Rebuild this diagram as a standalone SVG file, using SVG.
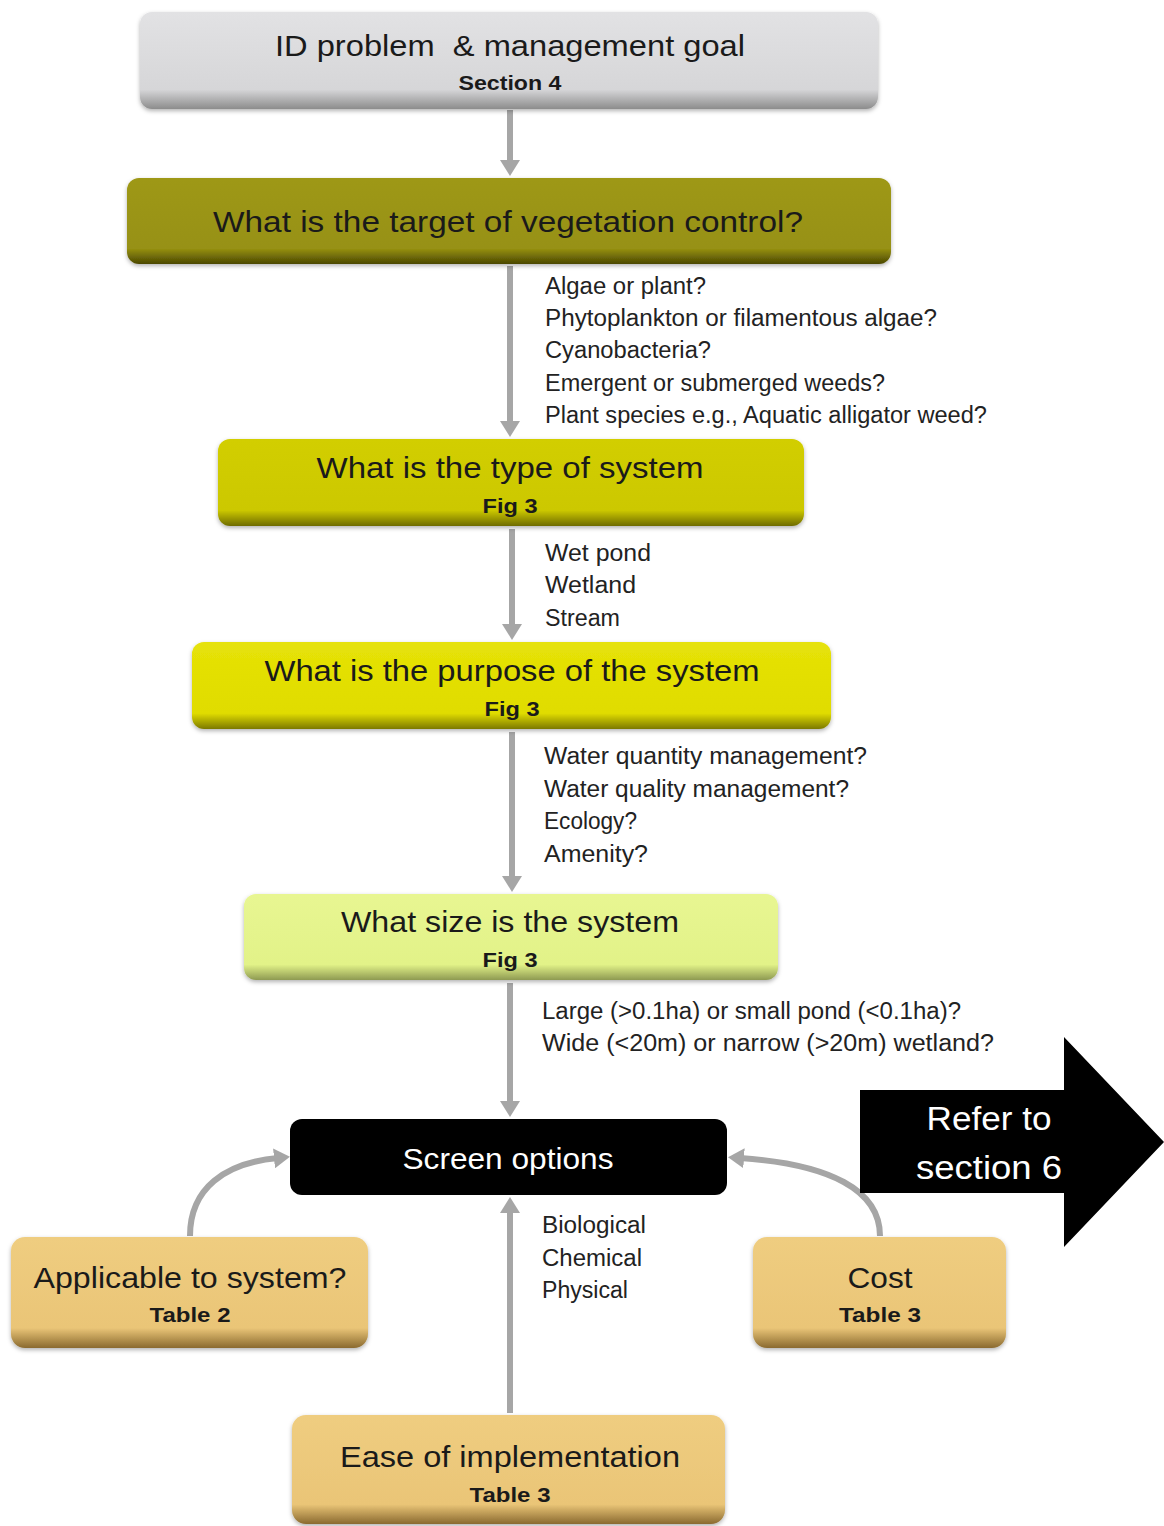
<svg xmlns="http://www.w3.org/2000/svg" width="1164" height="1526" viewBox="0 0 1164 1526">
<style>
.t{font-family:"Liberation Sans",Arial,sans-serif;fill:#1a1a1a;text-anchor:middle;}
.big{font-size:30px;}
.sub{font-size:21px;font-weight:bold;}
.lbl{font-family:"Liberation Sans",Arial,sans-serif;font-size:23px;fill:#222;}
.w{fill:#fff;}
.conn{stroke:#a6a6a6;stroke-width:6;fill:none;marker-end:url(#ah);}
</style>
<defs>
<marker id="ah" viewBox="0 0 16 20" refX="4" refY="10" markerWidth="16" markerHeight="20" markerUnits="userSpaceOnUse" orient="auto">
<path d="M0,0 L16,10 L0,20 z" fill="#a6a6a6"/>
</marker>
<filter id="sh" x="-5%" y="-10%" width="110%" height="130%">
<feDropShadow dx="0" dy="2" stdDeviation="2" flood-color="#000" flood-opacity="0.3"/>
</filter>
<linearGradient id="gGray" x1="0" y1="0" x2="0" y2="1">
<stop offset="0" stop-color="#e2e2e4"/><stop offset="0.8" stop-color="#d6d6d8"/><stop offset="1" stop-color="#8c8c8c"/>
</linearGradient>
<linearGradient id="gOlive" x1="0" y1="0" x2="0" y2="1">
<stop offset="0" stop-color="#9e9818"/><stop offset="0.82" stop-color="#979112"/><stop offset="1" stop-color="#4a4700"/>
</linearGradient>
<linearGradient id="gY1" x1="0" y1="0" x2="0" y2="1">
<stop offset="0" stop-color="#d2ce04"/><stop offset="0.82" stop-color="#ccc800"/><stop offset="1" stop-color="#6e6b00"/>
</linearGradient>
<linearGradient id="gY2" x1="0" y1="0" x2="0" y2="1">
<stop offset="0" stop-color="#e6e208"/><stop offset="0.82" stop-color="#e0dc00"/><stop offset="1" stop-color="#7c7900"/>
</linearGradient>
<linearGradient id="gL" x1="0" y1="0" x2="0" y2="1">
<stop offset="0" stop-color="#e8f692"/><stop offset="0.82" stop-color="#e2f288"/><stop offset="1" stop-color="#8e9a52"/>
</linearGradient>
<linearGradient id="gT" x1="0" y1="0" x2="0" y2="1">
<stop offset="0" stop-color="#efcd80"/><stop offset="0.82" stop-color="#eac577"/><stop offset="1" stop-color="#8a6a30"/>
</linearGradient>
</defs>
<rect width="1164" height="1526" fill="#fff"/>

<g id="connectors">
<line class="conn" x1="510" y1="110" x2="510" y2="164"/>
<line class="conn" x1="510" y1="266" x2="510" y2="425"/>
<line class="conn" x1="512" y1="529" x2="512" y2="628"/>
<line class="conn" x1="512" y1="732" x2="512" y2="880"/>
<line class="conn" x1="510" y1="983" x2="510" y2="1105"/>
<line class="conn" x1="510" y1="1413" x2="510" y2="1209"/>
<path class="conn" d="M190,1236 C190,1188 225,1163 278,1158"/>
<path class="conn" d="M880,1236 C880,1190 830,1164 740,1158"/>
</g>

<g id="labels">
<text class="lbl" x="545" y="294" textLength="161" lengthAdjust="spacingAndGlyphs">Algae or plant?</text>
<text class="lbl" x="545" y="326" textLength="392" lengthAdjust="spacingAndGlyphs">Phytoplankton or filamentous algae?</text>
<text class="lbl" x="545" y="358" textLength="166" lengthAdjust="spacingAndGlyphs">Cyanobacteria?</text>
<text class="lbl" x="545" y="391" textLength="340" lengthAdjust="spacingAndGlyphs">Emergent or submerged weeds?</text>
<text class="lbl" x="545" y="423" textLength="442" lengthAdjust="spacingAndGlyphs">Plant species e.g., Aquatic alligator weed?</text>
<text class="lbl" x="545" y="561" textLength="106" lengthAdjust="spacingAndGlyphs">Wet pond</text>
<text class="lbl" x="545" y="593" textLength="91" lengthAdjust="spacingAndGlyphs">Wetland</text>
<text class="lbl" x="545" y="626" textLength="75" lengthAdjust="spacingAndGlyphs">Stream</text>
<text class="lbl" x="544" y="764" textLength="323" lengthAdjust="spacingAndGlyphs">Water quantity management?</text>
<text class="lbl" x="544" y="797" textLength="305" lengthAdjust="spacingAndGlyphs">Water quality management?</text>
<text class="lbl" x="544" y="829" textLength="93" lengthAdjust="spacingAndGlyphs">Ecology?</text>
<text class="lbl" x="544" y="862" textLength="104" lengthAdjust="spacingAndGlyphs">Amenity?</text>
<text class="lbl" x="542" y="1019" textLength="419" lengthAdjust="spacingAndGlyphs">Large (&gt;0.1ha) or small pond (&lt;0.1ha)?</text>
<text class="lbl" x="542" y="1051" textLength="452" lengthAdjust="spacingAndGlyphs">Wide (&lt;20m) or narrow (&gt;20m) wetland?</text>
<text class="lbl" x="542" y="1233" textLength="104" lengthAdjust="spacingAndGlyphs">Biological</text>
<text class="lbl" x="542" y="1266" textLength="100" lengthAdjust="spacingAndGlyphs">Chemical</text>
<text class="lbl" x="542" y="1298" textLength="86" lengthAdjust="spacingAndGlyphs">Physical</text>
</g>

<g id="n-id">
<rect x="140" y="12" width="738" height="97" rx="12" fill="url(#gGray)" filter="url(#sh)"/>
<text class="t big" x="510" y="56" xml:space="preserve" textLength="470" lengthAdjust="spacingAndGlyphs">ID problem  &amp; management goal</text>
<text class="t sub" x="510" y="90" textLength="103" lengthAdjust="spacingAndGlyphs">Section 4</text>
</g>

<g id="n-target">
<rect x="127" y="178" width="764" height="86" rx="12" fill="url(#gOlive)" filter="url(#sh)"/>
<text class="t big" x="508" y="232" textLength="590" lengthAdjust="spacingAndGlyphs">What is the target of vegetation control?</text>
</g>

<g id="n-type">
<rect x="218" y="439" width="586" height="87" rx="12" fill="url(#gY1)" filter="url(#sh)"/>
<text class="t big" x="510" y="478" textLength="387" lengthAdjust="spacingAndGlyphs">What is the type of system</text>
<text class="t sub" x="510" y="513" textLength="55" lengthAdjust="spacingAndGlyphs">Fig 3</text>
</g>

<g id="n-purpose">
<rect x="192" y="642" width="639" height="87" rx="12" fill="url(#gY2)" filter="url(#sh)"/>
<text class="t big" x="512" y="681" textLength="495" lengthAdjust="spacingAndGlyphs">What is the purpose of the system</text>
<text class="t sub" x="512" y="716" textLength="55" lengthAdjust="spacingAndGlyphs">Fig 3</text>
</g>

<g id="n-size">
<rect x="244" y="894" width="534" height="86" rx="12" fill="url(#gL)" filter="url(#sh)"/>
<text class="t big" x="510" y="932" textLength="338" lengthAdjust="spacingAndGlyphs">What size is the system</text>
<text class="t sub" x="510" y="967" textLength="55" lengthAdjust="spacingAndGlyphs">Fig 3</text>
</g>

<g id="n-screen">
<rect x="290" y="1119" width="437" height="76" rx="12" fill="#000"/>
<text class="t big w" x="508" y="1169" textLength="211" lengthAdjust="spacingAndGlyphs">Screen options</text>
</g>

<g id="n-refer">
<polygon points="860,1090 1064,1090 1064,1037 1164,1142 1064,1247 1064,1193 860,1193" fill="#000"/>
<text class="t w" style="font-size:34px" x="989" y="1130" textLength="125" lengthAdjust="spacingAndGlyphs">Refer to</text>
<text class="t w" style="font-size:34px" x="989" y="1179" textLength="146" lengthAdjust="spacingAndGlyphs">section 6</text>
</g>

<g id="n-applicable">
<rect x="11" y="1237" width="357" height="111" rx="14" fill="url(#gT)" filter="url(#sh)"/>
<text class="t big" x="190" y="1288" textLength="313" lengthAdjust="spacingAndGlyphs">Applicable to system?</text>
<text class="t sub" x="190" y="1322" textLength="81" lengthAdjust="spacingAndGlyphs">Table 2</text>
</g>

<g id="n-cost">
<rect x="753" y="1237" width="253" height="111" rx="14" fill="url(#gT)" filter="url(#sh)"/>
<text class="t big" x="880" y="1288" textLength="65" lengthAdjust="spacingAndGlyphs">Cost</text>
<text class="t sub" x="880" y="1322" textLength="82" lengthAdjust="spacingAndGlyphs">Table 3</text>
</g>

<g id="n-ease">
<rect x="292" y="1415" width="433" height="109" rx="14" fill="url(#gT)" filter="url(#sh)"/>
<text class="t big" x="510" y="1467" textLength="340" lengthAdjust="spacingAndGlyphs">Ease of implementation</text>
<text class="t sub" x="510" y="1502" textLength="81" lengthAdjust="spacingAndGlyphs">Table 3</text>
</g>
</svg>
